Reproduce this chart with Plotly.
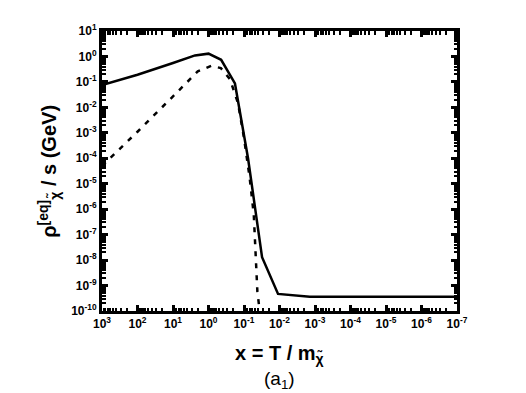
import plotly.graph_objects as go

# Data (log-log, x axis reversed)
x_solid = [1000, 100, 10, 2.4, 1.0, 0.44, 0.18, 0.077, 0.031, 0.011, 0.0014, 1e-7]
y_solid = [0.076, 0.19, 0.55, 1.1, 1.29, 0.74, 0.087, 1.0e-4, 1.3e-8, 4.7e-10, 3.6e-10, 3.6e-10]

x_dash = [1000, 100, 10, 2.0, 0.83, 0.45, 0.25, 0.148, 0.1, 0.069, 0.053, 0.047, 0.042, 0.038]
y_dash = [5e-5, 1.1e-3, 0.027, 0.26, 0.43, 0.35, 0.13, 0.015, 6.3e-4, 1.66e-5, 6e-7, 1.6e-8, 5.9e-10, 1.8e-10]

x_exps = list(range(3, -8, -1))
y_exps = list(range(1, -11, -1))
x_ticktext = [f"<b>10<sup>{e}</sup></b>" for e in x_exps]
y_ticktext = [f"<b>10<sup>{e}</sup></b>" for e in y_exps]

x_minor = [m * 10.0 ** e for e in range(-7, 3) for m in range(2, 10)]
y_minor = [m * 10.0 ** e for e in range(-10, 1) for m in range(2, 10)]

FONT = "Liberation Sans, Arial, sans-serif"

fig = go.Figure()
fig.add_trace(go.Scatter(x=x_solid, y=y_solid, mode="lines",
                         line=dict(color="black", width=2.5), showlegend=False))
fig.add_trace(go.Scatter(x=x_dash, y=y_dash, mode="lines",
                         line=dict(color="black", width=2.5, dash="5px,7px"), showlegend=False))

axis_common = dict(
    type="log", showgrid=False, zeroline=False,
    showline=True, linecolor="black", linewidth=3, mirror="allticks",
    ticks="inside", ticklen=6, tickwidth=2.5, tickcolor="black",
    tickfont=dict(family=FONT, size=12, color="black"),
)

fig.update_xaxes(range=[3, -7], tickmode="array",
                 tickvals=[10.0 ** e for e in x_exps], ticktext=x_ticktext,
                 minor=dict(ticks="inside", ticklen=3.5, tickwidth=2, tickcolor="black",
                            tickmode="array", tickvals=x_minor),
                 **axis_common)
fig.update_yaxes(range=[-10, 1], tickmode="array",
                 tickvals=[10.0 ** e for e in y_exps], ticktext=y_ticktext,
                 minor=dict(ticks="inside", ticklen=3.5, tickwidth=2, tickcolor="black",
                            tickmode="array", tickvals=y_minor),
                 **axis_common)

fig.update_layout(
    width=526, height=393,
    margin=dict(l=94, r=77, t=23, b=90),
    paper_bgcolor="white", plot_bgcolor="white",
    font=dict(family=FONT, color="black"),
    annotations=[
        dict(text="<b>ρ<sup>[eq]</sup><sub>χ̃</sub> / s (GeV)</b>", textangle=-90,
             x=-0.15, y=0.5, xref="paper", yref="paper", xanchor="center", yanchor="middle",
             showarrow=False, font=dict(family=FONT, size=20, color="black")),
        dict(text="<b>x = T / m<sub>χ̃</sub></b>",
             x=0.5, y=-0.157, xref="paper", yref="paper", xanchor="center", yanchor="middle",
             showarrow=False, font=dict(family=FONT, size=20, color="black")),
        dict(text="(a<sub>1</sub>)",
             x=0.5, y=-0.246, xref="paper", yref="paper", xanchor="center", yanchor="middle",
             showarrow=False, font=dict(family=FONT, size=19, color="black")),
    ],
)

fig.write_html("out.html")
